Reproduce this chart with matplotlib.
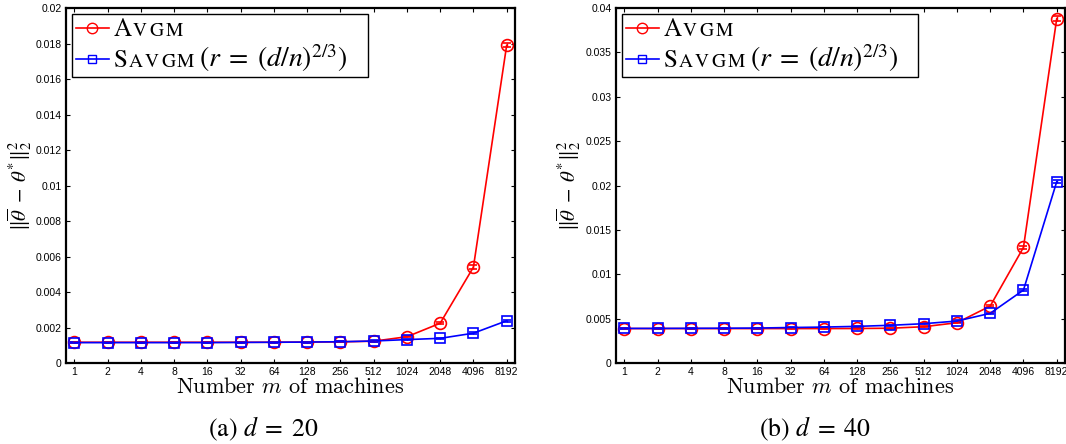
import numpy as np
import matplotlib
matplotlib.use("Agg")
import matplotlib.pyplot as plt
from matplotlib.lines import Line2D
from matplotlib.offsetbox import AnchoredOffsetbox, DrawingArea, HPacker, TextArea, VPacker

plt.rcParams['mathtext.fontset'] = 'stix'
plt.rcParams['font.family'] = ['Liberation Sans', 'DejaVu Sans']

machines = ['1', '2', '4', '8', '16', '32', '64', '128', '256', '512',
            '1024', '2048', '4096', '8192']

# d = 20
avgm_20 = [0.00117, 0.00117, 0.00117, 0.00117, 0.00117, 0.00117, 0.00117,
           0.00118, 0.00119, 0.00123, 0.00148, 0.00224, 0.00540, 0.01790]
savgm_20 = [0.00115, 0.00115, 0.00115, 0.00115, 0.00115, 0.00116, 0.00117,
            0.00118, 0.00120, 0.00124, 0.00132, 0.00139, 0.00168, 0.00238]
avgm_20_err = [0.00003, 0.00003, 0.00003, 0.00003, 0.00003, 0.00003, 0.00003,
               0.00003, 0.00003, 0.00003, 0.00004, 0.00006, 0.00010, 0.00012]
savgm_20_err = [0.00003, 0.00003, 0.00003, 0.00003, 0.00003, 0.00003, 0.00003,
                0.00003, 0.00003, 0.00003, 0.00003, 0.00004, 0.00004, 0.00006]

# d = 40
avgm_40 = [0.00388, 0.00388, 0.00388, 0.00388, 0.00388, 0.00388, 0.00388,
           0.00389, 0.00392, 0.00409, 0.00454, 0.00642, 0.01303, 0.03880]
savgm_40 = [0.00390, 0.00390, 0.00391, 0.00392, 0.00394, 0.00400, 0.00405,
            0.00413, 0.00425, 0.00443, 0.00473, 0.00560, 0.00822, 0.02043]
avgm_40_err = [0.00006, 0.00006, 0.00006, 0.00006, 0.00006, 0.00006, 0.00006,
               0.00006, 0.00006, 0.00007, 0.00008, 0.00012, 0.00020, 0.00025]
savgm_40_err = [0.00006, 0.00006, 0.00006, 0.00006, 0.00006, 0.00006, 0.00006,
                0.00006, 0.00006, 0.00006, 0.00007, 0.00008, 0.00012, 0.00020]

yticks_20 = [0, 0.002, 0.004, 0.006, 0.008, 0.01, 0.012, 0.014, 0.016, 0.018, 0.02]
ylabels_20 = ['0', '0.002', '0.004', '0.006', '0.008', '0.01', '0.012', '0.014',
              '0.016', '0.018', '0.02']
yticks_40 = [0, 0.005, 0.01, 0.015, 0.02, 0.025, 0.03, 0.035, 0.04]
ylabels_40 = ['0', '0.005', '0.01', '0.015', '0.02', '0.025', '0.03', '0.035', '0.04']

captions = [r'(a) $d\;=\;20$', r'(b) $d\;=\;40$']

BIG = 18
SMALL = 14
MATH = 20


def small_caps(first, rest):
    # a capital letter followed by small-cap letters, spaced out a little
    kids = [TextArea(first, textprops=dict(fontsize=BIG, family='STIXGeneral'))]
    tail = [TextArea(ch, textprops=dict(fontsize=SMALL, family='STIXGeneral')) for ch in rest]
    kids.append(HPacker(children=tail, sep=1.6, pad=0, align='baseline'))
    return HPacker(children=kids, sep=0.5, pad=0, align='baseline')


def legend_row(color, marker, ms, first, rest, extra=None):
    da = DrawingArea(24, 12, 0, 0)
    da.add_artist(Line2D([0, 24], [5.5, 5.5], color=color, lw=1.2))
    da.add_artist(Line2D([12], [5.5], marker=marker, ms=ms, mfc='none',
                         mec=color, mew=1.0, ls='none'))
    kids = [da, small_caps(first, rest)]
    if extra is not None:
        kids.append(TextArea(extra, textprops=dict(fontsize=MATH, family='STIXGeneral')))
    return HPacker(children=kids, sep=3.5, pad=0, align='baseline')


def add_legend(ax):
    rows = [legend_row('red', 'o', 7.5, 'A', 'VGM'),
            legend_row('blue', 's', 6, 'S', 'AVGM', r'$(r\;=\;(d/n)^{2/3})$')]
    box = VPacker(children=rows, sep=0, pad=0, align='left')
    box = HPacker(children=[box, DrawingArea(12, 1, 0, 0)], sep=0, pad=0)
    leg = AnchoredOffsetbox(loc='upper left', child=box, pad=0.25, borderpad=0.45,
                            frameon=True, prop=dict(size=10),
                            bbox_to_anchor=(0, 1), bbox_transform=ax.transAxes)
    leg.patch.set_boxstyle('square', pad=0)
    leg.patch.set_linewidth(1.0)
    leg.patch.set_edgecolor('black')
    ax.add_artist(leg)


def draw_panel(ax, avgm, avgm_err, savgm, savgm_err, yticks, ylabels, ylab_x):
    x = np.arange(1, len(machines) + 1)
    ax.errorbar(x, avgm, yerr=avgm_err, fmt='-o', color='red', lw=1.2, ms=8.5,
                mfc='none', mew=1.2, capsize=3, elinewidth=1.0)
    ax.errorbar(x, savgm, yerr=savgm_err, fmt='-s', color='blue', lw=1.2, ms=7,
                mfc='none', mew=1.2, capsize=3, elinewidth=1.0)
    ax.set_xlim(0.75, 14.25)
    ax.set_ylim(yticks[0], yticks[-1])
    ax.set_xticks(x)
    ax.set_xticklabels(machines)
    ax.set_yticks(yticks)
    ax.set_yticklabels(ylabels)
    ax.tick_params(direction='in', top=True, right=True, length=3, width=0.8,
                   labelsize=7.5, pad=3)
    for s in ax.spines.values():
        s.set_linewidth(1.6)
    ax.set_xlabel(r'Number $m$ of machines', fontsize=16, family='cmr10',
                  math_fontfamily='cm', labelpad=0)
    ax.set_ylabel(r'$\|\overline{\theta}\;-\;\theta^{*}\|_2^2$', fontsize=15)
    ax.yaxis.set_label_coords(ylab_x, 0.5)
    add_legend(ax)


fig = plt.figure(figsize=(10.66, 4.44), dpi=100)
ax1 = fig.add_axes([0.0619, 0.1824, 0.4212, 0.7995])
ax2 = fig.add_axes([0.5779, 0.1824, 0.4212, 0.7995])

draw_panel(ax1, avgm_20, avgm_20_err, savgm_20, savgm_20_err, yticks_20, ylabels_20, -0.071)
draw_panel(ax2, avgm_40, avgm_40_err, savgm_40, savgm_40_err, yticks_40, ylabels_40, -0.073)

fig.text(263 / 1066, 0.018, captions[0], family='STIXGeneral', fontsize=18.5,
         ha='center', va='baseline')
fig.text(815 / 1066, 0.018, captions[1], family='STIXGeneral', fontsize=18.5,
         ha='center', va='baseline')

fig.savefig('out.png', dpi=100)
